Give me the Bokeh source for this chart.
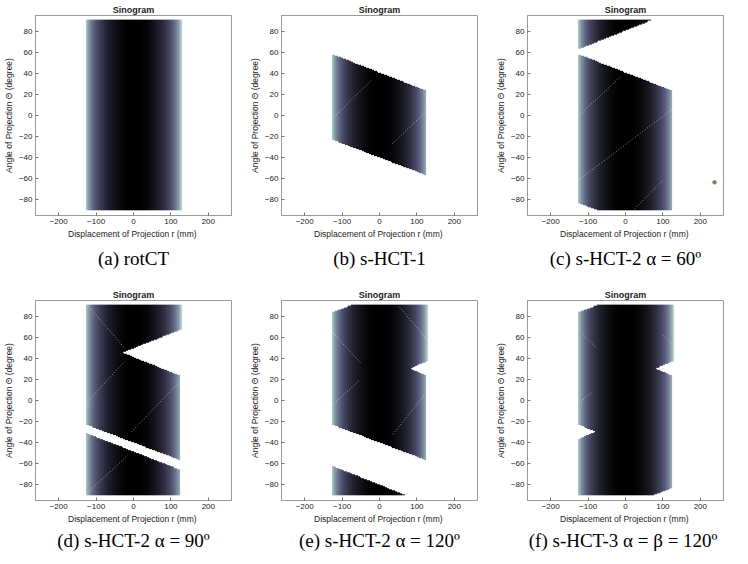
import numpy as np
from bokeh.plotting import figure
from bokeh.layouts import column, row
from bokeh.models import Range1d, FixedTicker, LinearColorMapper, Title
from bokeh.embed import file_html
from bokeh.resources import INLINE

# ---------------- data ----------------
CAPTIONS = ["(a) rotCT", "(b) s-HCT-1", "(c) s-HCT-2 \u03b1 = 60\u00ba",
            "(d) s-HCT-2 \u03b1 = 90\u00ba", "(e) s-HCT-2 \u03b1 = 120\u00ba",
            "(f) s-HCT-3 \u03b1 =  \u03b2 = 120\u00ba"]
X_TICKS = [-200, -100, 0, 100, 200]
Y_TICKS = [-80, -60, -40, -20, 0, 20, 40, 60, 80]
OBJECT_RADIUS = 130  # mm (shading of the projection profile)

# sinogram support regions: per panel a list of polygons (r in mm, theta in degree)
PANEL_A_R = [[-128, 128, 128, -128]]
PANEL_A_T = [[-90, -90, 90, 90]]
PANEL_B_R = [[-128, 125, 125, -128]]
PANEL_B_T = [[-23, -57, 23, 58]]
PANEL_C_R = [[-128, 70, -128], [-128, -75, 125, 125, -128]]
PANEL_C_T = [[62, 90, 90], [-83, -90, -90, 23, 58]]
PANEL_D_R = [[-128, 128, 128, -30, 125, 125, -128], [-128, 125, 125, -128]]
PANEL_D_T = [[90, 90, 67, 45, 23, -57, -23], [-31, -66, -90, -90]]
PANEL_E_R = [[-128, -75, 128, 128, 82, 125, 125, -128], [-128, 70, -128]]
PANEL_E_T = [[83, 90, 90, 37, 30, 23, -57, -23], [-62, -90, -90]]
PANEL_F_R = [[-128, -75, 128, 128, 80, 125, 125, 75, -128, -128, -80, -128]]
PANEL_F_T = [[83, 90, 90, 37, 30, 23, -83, -90, -90, -37, -30, -23]]

# faint streaks (r0, t0, r1, t1)
STREAKS_A = []
STREAKS_B = [(-128, -3.5, -23, 33), (34, -27, 126, 4.4)]
STREAKS_C = [(-128, -1, -12, 37), (-128, -62, 125, 6), (23, -89, 102, -61)]
STREAKS_D = [(-122, 90, -24, 50), (-128, -3, -24, 37), (-6, -30, 124, 18), (-127, -89, -15, -52)]
STREAKS_E = [(-124, 64, -51, 36), (53, 89, 127, 58), (-128, -5, -51, 20), (36, -32, 122, 6)]
STREAKS_F = [(-112, 62, -78, 50), (100, 62, 128, 52), (-125, -3, -90, 8)]

DOT_C_R = [238]
DOT_C_T = [-63.5]

PANELS = [(PANEL_A_R, PANEL_A_T, STREAKS_A), (PANEL_B_R, PANEL_B_T, STREAKS_B),
          (PANEL_C_R, PANEL_C_T, STREAKS_C), (PANEL_D_R, PANEL_D_T, STREAKS_D),
          (PANEL_E_R, PANEL_E_T, STREAKS_E), (PANEL_F_R, PANEL_F_T, STREAKS_F)]

# ---------------- helpers ----------------
def bone_palette(n=256):
    pal = []
    for i in range(n):
        t = i / (n - 1)
        hr = min(1.0, t / 0.375)
        hg = min(1.0, max(0.0, (t - 0.375) / 0.375))
        hb = min(1.0, max(0.0, (t - 0.75) / 0.25))
        r = (7 * t + hb) / 8
        g = (7 * t + hg) / 8
        b = (7 * t + hr) / 8
        pal.append("#%02x%02x%02x" % (int(r * 255), int(g * 255), int(b * 255)))
    return pal

BONE = bone_palette()

def poly_mask(X, Y, vx, vy):
    m = np.zeros(X.shape, dtype=bool)
    n = len(vx)
    j = n - 1
    for i in range(n):
        xi, yi, xj, yj = vx[i], vy[i], vx[j], vy[j]
        if yi != yj:
            xint = (xj - xi) * (Y - yi) / (yj - yi) + xi
            m ^= ((yi > Y) != (yj > Y)) & (X < xint)
        j = i
    return m

X0, X1, Y0, Y1 = -130.0, 130.0, -92.0, 92.0
NX, NY = 520, 368
xs = X0 + (np.arange(NX) + 0.5) * (X1 - X0) / NX
ys = Y0 + (np.arange(NY) + 0.5) * (Y1 - Y0) / NY
GX, GY = np.meshgrid(xs, ys)
SHADE = 1 - np.sqrt(np.clip(1 - (GX / OBJECT_RADIUS) ** 2, 0, 1))

FONT = "Liberation Sans"

def make_panel(idx, height, bottom, cap_standoff):
    pr, pt, streaks = PANELS[idx]
    p = figure(width=246, height=height, output_backend="svg", toolbar_location=None,
               x_range=Range1d(-262, 262), y_range=Range1d(-95, 95),
               min_border_left=30, min_border_right=15, min_border_top=15,
               min_border_bottom=bottom, background_fill_color="white",
               border_fill_color="white")
    p.title.text = "Sinogram"
    p.title.align = "center"
    p.title.text_font = FONT
    p.title.text_font_size = "9px"
    p.title.text_font_style = "bold"
    p.title.text_color = "#222222"
    p.title.standoff = 2
    p.grid.visible = False
    p.outline_line_color = "#9a9a9a"
    p.outline_line_width = 1

    mask = np.zeros(GX.shape, dtype=bool)
    for vx, vy in zip(pr, pt):
        mask |= poly_mask(GX, GY, vx, vy)
    img = np.where(mask, SHADE, np.nan)
    mapper = LinearColorMapper(palette=BONE, low=0, high=1, nan_color=(0, 0, 0, 0.0))
    p.image(image=[img], x=X0, y=Y0, dw=X1 - X0, dh=Y1 - Y0, color_mapper=mapper)

    if streaks:
        s = np.array(streaks, dtype=float)
        p.segment(x0=s[:, 0], y0=s[:, 1], x1=s[:, 2], y1=s[:, 3],
                  line_color="white", line_alpha=0.55, line_width=1, line_dash="1 2")
    if idx == 2:
        p.scatter(DOT_C_R, DOT_C_T, size=3.5, color="#8c7b4a")

    p.xaxis.ticker = FixedTicker(ticks=X_TICKS)
    p.yaxis.ticker = FixedTicker(ticks=Y_TICKS)
    p.xaxis.axis_label = "Displacement of Projection r  (mm)"
    p.yaxis.axis_label = "Angle of Projection \u0398 (degree)"
    for ax in (p.xaxis, p.yaxis):
        ax.major_tick_in = 3
        ax.major_tick_out = 0
        ax.minor_tick_line_color = None
        ax.axis_line_color = "#9a9a9a"
        ax.major_tick_line_color = "#777777"
        ax.major_label_text_font = FONT
        ax.major_label_text_font_size = "8px"
        ax.major_label_text_color = "#222222"
        ax.major_label_standoff = 3
        ax.axis_label_text_font = FONT
        ax.axis_label_text_font_size = "8.5px"
        ax.axis_label_text_font_style = "normal"
        ax.axis_label_text_color = "#222222"
        ax.axis_label_standoff = 2

    cap = Title(text=CAPTIONS[idx], align="center", text_font="Liberation Serif",
                text_font_size="19px", text_font_style="normal", text_color="black",
                standoff=cap_standoff)
    p.add_layout(cap, "below")
    return p

top = [make_panel(i, 285, 70, 8) for i in range(3)]
bot = [make_panel(i, 271, 56, 2) for i in range(3, 6)]
layout = column(row(*top), row(*bot))

open("out.html", "w").write(file_html(layout, INLINE))
